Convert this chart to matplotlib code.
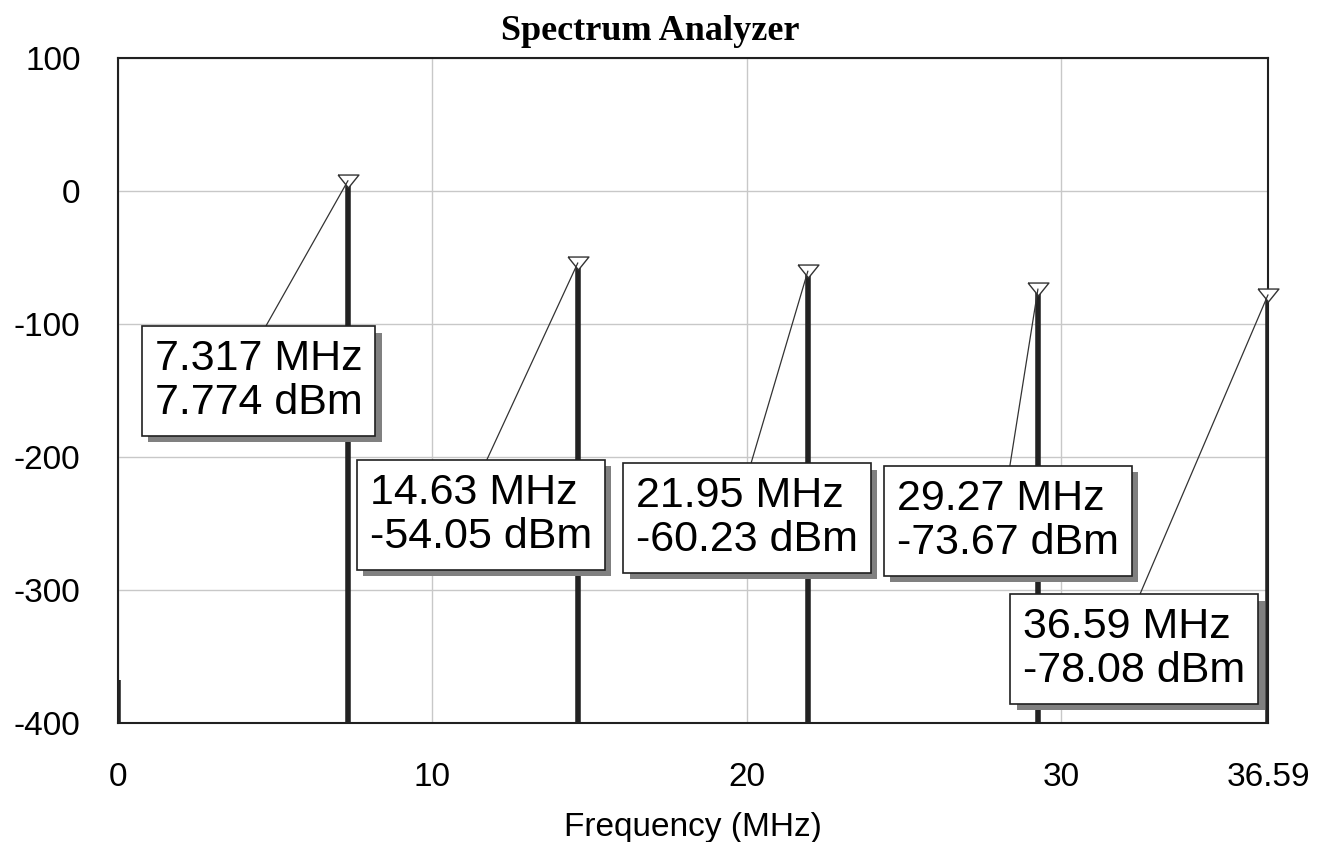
import matplotlib
matplotlib.use('Agg')
import matplotlib.pyplot as plt
import matplotlib.patheffects as pe
import numpy as np

# spectrum lines (MHz, dBm)
freqs = [0.0, 7.317, 14.63, 21.95, 29.27, 36.59]
levels = [-368.0, 7.774, -54.05, -60.23, -73.67, -78.08]

# marker readouts: index into freqs, box centre (MHz, dBm)
marked = [1, 2, 3, 4, 5]
box_x = [4.47, 11.54, 20.02, 28.31, 32.34]
box_y = [-142.9, -243.6, -245.9, -248.1, -344.4]

x_ticks = [0, 10, 20, 30, 36.59]
x_tick_labels = ['0', '10', '20', '30', '36.59']
y_ticks = [100, 0, -100, -200, -300, -400]

plt.rcParams['font.family'] = ['Liberation Sans', 'DejaVu Sans']
plt.rcParams['axes.unicode_minus'] = False

fig = plt.figure(figsize=(13.26, 8.42), dpi=100)
ax = fig.add_axes([118 / 1326, 1 - 723 / 842, 1150 / 1326, 665 / 842])

ax.set_xlim(0, 36.59)
ax.set_ylim(-400, 100)
ax.set_xticks(x_ticks)
ax.set_xticklabels(x_tick_labels)
ax.set_yticks(y_ticks)
ax.tick_params(length=0, labelsize=24)
ax.tick_params(axis='x', pad=28)
ax.tick_params(axis='y', pad=27)
ax.grid(True, color='#c8c8c8', lw=1)
ax.set_axisbelow(True)
for s in ax.spines.values():
    s.set_color('#202020')
    s.set_linewidth(1.5)

ax.vlines(freqs, -400, levels, colors='#222222', lw=4, zorder=3)

tri = [(-1, 0.62), (1, 0.62), (0, -0.62), (-1, 0.62)]
mx = [freqs[i] for i in marked]
my = [levels[i] for i in marked]
ax.plot(mx, my, ls='none', marker=tri, ms=15, mfc='white', mec='#333333',
        mew=1, zorder=4, clip_on=False)

for k, i in enumerate(marked):
    txt = f'{freqs[i]:.4g} MHz\n{levels[i]:.4g} dBm'
    ann = ax.annotate(txt, xy=(freqs[i], levels[i]), xytext=(box_x[k], box_y[k]),
                      ha='center', va='center', multialignment='left',
                      fontsize=31, linespacing=1.12, zorder=6,
                      bbox=dict(boxstyle='square,pad=0.3', fc='white', ec='#202020', lw=1.2),
                      arrowprops=dict(arrowstyle='-', color='#333333', lw=0.9,
                                      relpos=(0.5, 1.0), shrinkA=0, shrinkB=0))
    ann.get_bbox_patch().set_path_effects([
        pe.SimplePatchShadow(offset=(4.5, -4.5), shadow_rgbFace='#808080', alpha=1),
        pe.Normal()])

ax.set_xlabel('Frequency (MHz)', fontsize=24, labelpad=14)
fig.text(650 / 1326, 1 - 31 / 842, 'Spectrum Analyzer', ha='center', va='center',
         fontsize=26, fontweight='bold', family='Liberation Serif')

fig.savefig('out.png', dpi=100)
